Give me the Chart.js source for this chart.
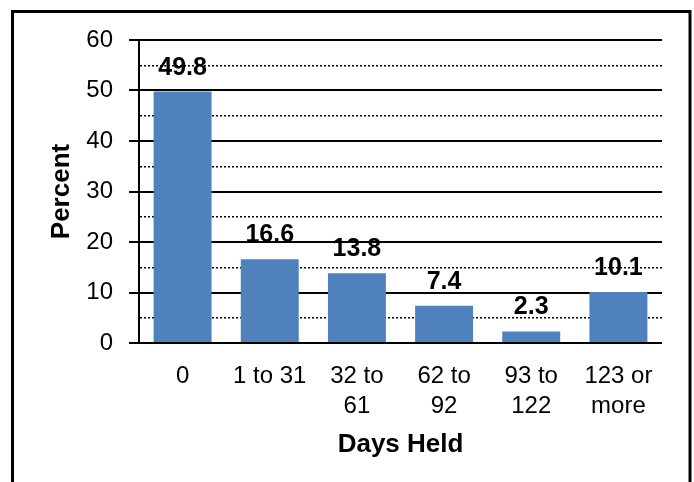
<!DOCTYPE html>
<html>
<head>
<meta charset="utf-8">
<script src="https://cdn.jsdelivr.net/npm/chart.js@4/dist/chart.umd.min.js"></script>
<style>
  html, body { margin: 0; padding: 0; background: #fff; }
  #wrap { width: 694px; height: 482px; position: relative; }
</style>
</head>
<body>
<div id="wrap"><canvas id="c" width="694" height="482"></canvas></div>
<script>
// Share of items by number of days held
const categories = [['0'], ['1 to 31'], ['32 to', '61'], ['62 to', '92'], ['93 to', '122'], ['123 or', 'more']];
const percentValues = [49.8, 16.6, 13.8, 7.4, 2.3, 10.1];
const yTickLabels = ['0', '10', '20', '30', '40', '50', '60'];

const FONT = 'Arial, "Liberation Sans", sans-serif';
const BAR_BLUE = '#4F81BD';

// Black frame around the whole figure
const framePlugin = {
  id: 'frame',
  afterDraw(chart) {
    const ctx = chart.ctx;
    ctx.save();
    ctx.strokeStyle = '#000';
    ctx.lineWidth = 3;
    ctx.strokeRect(12.5, 11.5, 677.5, 520);
    ctx.restore();
  }
};

// Value labels above each bar
const valueLabelPlugin = {
  id: 'valueLabels',
  afterDatasetsDraw(chart) {
    const ctx = chart.ctx;
    const meta = chart.getDatasetMeta(0);
    const data = chart.data.datasets[0].data;
    ctx.save();
    ctx.font = 'bold 25px ' + FONT;
    ctx.fillStyle = '#000';
    ctx.textAlign = 'center';
    ctx.textBaseline = 'alphabetic';
    meta.data.forEach((bar, i) => {
      ctx.fillText(data[i].toFixed(1), bar.x, bar.y - 17);
    });
    ctx.restore();
  }
};

const isMajor = (v) => Math.round(v) % 10 === 0;

new Chart(document.getElementById('c'), {
  type: 'bar',
  data: {
    labels: categories,
    datasets: [{
      data: percentValues,
      backgroundColor: BAR_BLUE,
      borderWidth: 0,
      barPercentage: 0.665,
      categoryPercentage: 1.0
    }]
  },
  options: {
    responsive: false,
    animation: false,
    events: [],
    layout: { padding: { left: 0, right: 32, top: 40, bottom: 0 } },
    plugins: {
      legend: { display: false },
      tooltip: { enabled: false }
    },
    scales: {
      x: {
        grid: { display: false },
        border: { display: false },
        ticks: {
          color: '#000',
          font: { family: FONT, size: 24, lineHeight: 1.25 },
          padding: 10,
          maxRotation: 0,
          autoSkip: false
        },
        title: {
          display: true,
          text: 'Days Held',
          color: '#000',
          font: { family: FONT, size: 26, weight: 'bold', lineHeight: 1.2 },
          padding: { top: 0, bottom: 22 }
        },
        afterFit(scale) { scale.height = 139; }
      },
      y: {
        min: 0,
        max: 60,
        ticks: {
          stepSize: 5,
          autoSkip: false,
          color: '#000',
          padding: 16,
          font: { family: FONT, size: 24 },
          callback: (v) => isMajor(v) ? yTickLabels[Math.round(v) / 10] : ''
        },
        grid: {
          color: '#000',
          lineWidth: (c) => (c.tick && !isMajor(c.tick.value)) ? 1.5 : 2,
          tickLength: 10,
          tickColor: (c) => (c.tick && isMajor(c.tick.value)) ? '#000' : 'rgba(0,0,0,0)',
          tickWidth: 2
        },
        border: {
          display: true,
          color: '#000',
          width: 2,
          dash: (c) => (c.tick && !isMajor(c.tick.value)) ? [2, 2] : []
        },
        title: {
          display: true,
          text: 'Percent',
          color: '#000',
          font: { family: FONT, size: 26, weight: 'bold', lineHeight: 1.2 },
          padding: { top: 46, bottom: 0 }
        },
        afterFit(scale) { scale.width = 139; }
      }
    }
  },
  plugins: [framePlugin, valueLabelPlugin]
});
</script>
</body>
</html>
